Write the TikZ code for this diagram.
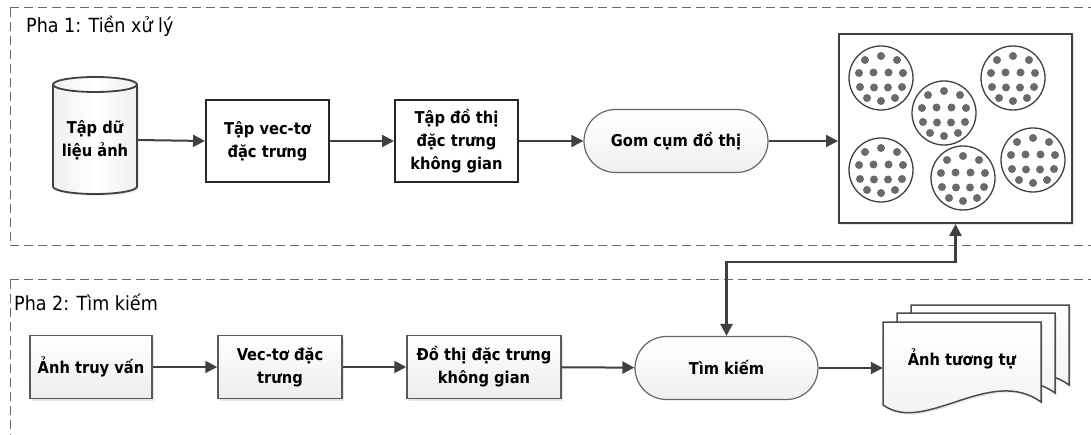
\documentclass[tikz,border=0pt]{standalone}
\usepackage{fontspec}
\setmainfont{DejaVu Sans Condensed}
\usetikzlibrary{arrows.meta,shapes.misc,shadows}
\definecolor{ln}{HTML}{404040}
\definecolor{dot}{HTML}{6A6A6A}
\begin{document}
\begin{tikzpicture}[x=1pt,y=-1pt,
  phase/.style={draw=black!60, line width=1pt, dash pattern=on 9pt off 5pt},
  lbl/.style={anchor=west, inner sep=0pt, font=\fontsize{19.5}{22}\selectfont},
  boxA/.style={draw=black!85, line width=2pt, fill=white, inner sep=0pt, align=center,
    minimum width=123pt, minimum height=82pt, font=\fontsize{16.3}{23}\selectfont\bfseries},
  boxB/.style={draw=black!65, line width=1.5pt, top color=white, bottom color=gray!14,
    drop shadow={opacity=0.2, shadow xshift=2pt, shadow yshift=-2pt},
    inner sep=0pt, align=center, minimum height=63pt, font=\fontsize{16.3}{23}\selectfont\bfseries},
  pill/.style={rounded rectangle, draw=black!60, line width=1.2pt, top color=white, bottom color=gray!12,
    inner sep=0pt, minimum height=63pt, font=\fontsize{16.3}{23}\selectfont\bfseries},
  plain/.style={inner sep=0pt, align=center, font=\fontsize{16.3}{23}\selectfont\bfseries},
  arr/.style={draw=ln, line width=2pt, -{Triangle[length=12pt,width=12pt]}},
  darr/.style={draw=ln, line width=2.5pt, {Triangle[length=12pt,width=12pt]}-{Triangle[length=12pt,width=12pt]}}
]
\useasboundingbox (0,0) rectangle (1091,435);
\fill[white] (0,0) rectangle (1091,435);

% phase frames
\draw[phase] (10,8) -- (1100,8);
\draw[phase] (10,8) -- (10,246) -- (1100,246);
\draw[phase] (10,280) -- (1100,280);
\draw[phase] (10,280) -- (10,445);
\node[lbl] (p1) at (26,26) {Pha 1: Tiền xử lý};
\node[lbl] (p2) at (14,302) {Pha 2: Tìm kiếm};

% cylinder
\draw[draw=black!75, line width=1.8pt, left color=gray!12, right color=gray!12, middle color=white,
  drop shadow={opacity=0.15, shadow xshift=2pt, shadow yshift=-2pt}]
  (53,84.5) -- (53,186.5) arc[start angle=180, end angle=360, x radius=42pt, y radius=7.5pt]
  -- (137,84.5) arc[start angle=0, end angle=180, x radius=42pt, y radius=7.5pt] -- cycle;
\draw[draw=black!75, line width=1.8pt] (53,84.5) arc[start angle=180, end angle=360, x radius=42pt, y radius=7.5pt];
\node[plain, minimum width=84pt, minimum height=117pt] (cyl) at (95,140) {Tập dữ\\liệu ảnh};

% phase 1 row
\node[boxA] (vec) at (267.5,141) {Tập vec-tơ\\đặc trưng};
\node[boxA] (gra) at (456.5,141) {Tập đồ thị\\đặc trưng\\không gian};
\node[pill, minimum width=184pt] (gom) at (676,141) {Gom cụm đồ thị};

% cluster box
\node[draw=black!75, line width=2pt, fill=white, minimum width=233pt, minimum height=189pt,
  drop shadow={opacity=0.2, shadow xshift=2pt, shadow yshift=-2pt}] (clu) at (955.5,128.5) {};
\foreach \cx/\cy in {881/78, 944/113, 1013/78, 881/170, 963/178, 1033/160}{
  \draw[black!75, line width=1.3pt] (\cx,\cy) circle (32pt);
  \foreach \dx/\dy in {-16/-18, 0/-22, 16/-18, -22/-5, -7.5/-5.5, 7.5/-5.5, 22/-5,
                       -21/9, -7/9.5, 7/9.5, 21/9, -14/20, 0/23, 14/20}{
    \fill[dot] (\cx+\dx,\cy+\dy) circle (4pt);
  }
}

\draw[arr] (cyl.east) -- (vec.west);
\draw[arr] (vec) -- (gra);
\draw[arr] (gra) -- (gom);
\draw[arr] (gom.east) -- (gom.east -| clu.west);

% phase 2 row
\node[boxB, minimum width=122pt] (qry) at (91,367) {Ảnh truy vấn};
\node[boxB, minimum width=124pt] (qvec) at (280,367) {Vec-tơ đặc\\trưng};
\node[boxB, minimum width=154pt] (qgra) at (484,367) {Đồ thị đặc trưng\\không gian};
\node[pill, minimum width=183pt] (srch) at (726.5,368) {Tìm kiếm};

% document stack
\foreach \sx/\sy in {28/-17, 14/-9, 0/0}{
  \begin{scope}[shift={(\sx,\sy)}]
  \draw[draw=black!70, line width=1.5pt, top color=white, bottom color=gray!12,
    drop shadow={opacity=0.15, shadow xshift=2pt, shadow yshift=-2pt}]
    (883,322) -- (1041,322) -- (1041,402) .. controls (990,365) and (925,435) .. (883,405) -- cycle;
  \end{scope}
}
\node[plain, minimum width=158pt, minimum height=60pt] (doc) at (962,359) {Ảnh tương tự};

\draw[arr] (qry) -- (qvec);
\draw[arr] (qvec) -- (qgra);
\draw[arr] (qgra) -- (srch);
\draw[arr] (srch.east) -- (srch.east -| doc.west);

\coordinate (bend) at (955.5,262);
\draw[darr] (srch.north) |- (bend) -- (clu.south);
\end{tikzpicture}
\end{document}
